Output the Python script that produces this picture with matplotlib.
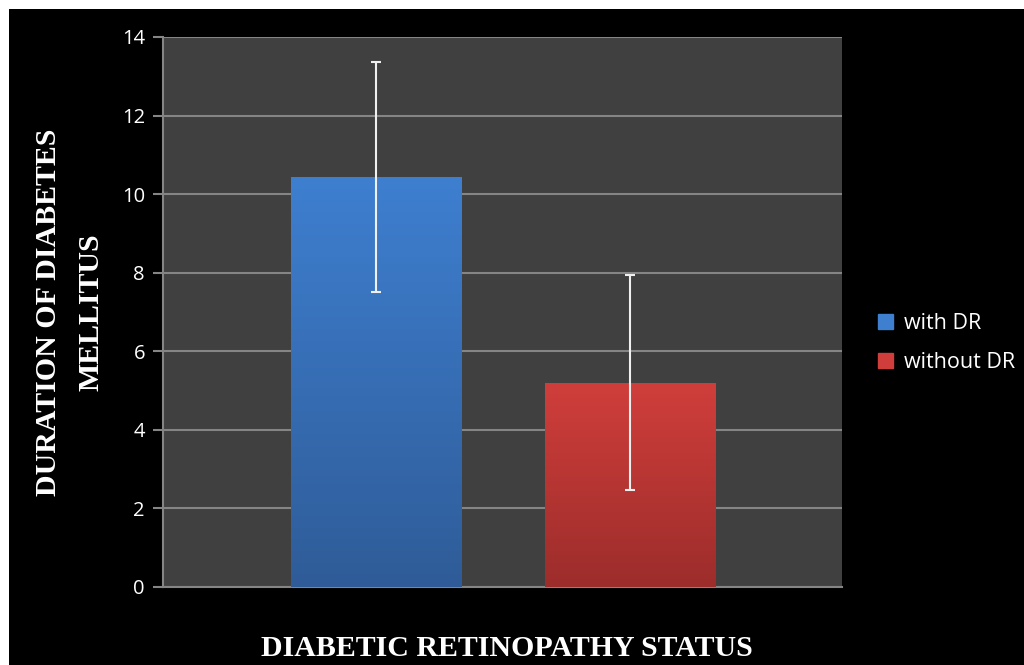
import numpy as np
import matplotlib
matplotlib.use("Agg")
import matplotlib.pyplot as plt
from matplotlib.patches import Rectangle
from matplotlib.colors import LinearSegmentedColormap

series = ["with DR", "without DR"]
means = [10.44, 5.2]
errors = [2.92, 2.73]
top_colors = ["#3E7FD0", "#D03E3B"]
bottom_colors = ["#2F5C98", "#9C2D2B"]
yticks = [0, 2, 4, 6, 8, 10, 12, 14]
xlabel = "DIABETIC RETINOPATHY STATUS"
ylabel = "DURATION OF DIABETES\nMELLITUS"

W, H = 1024, 665
fig = plt.figure(figsize=(W / 100, H / 100), dpi=100)
fig.patch.set_facecolor("white")
fig.add_artist(Rectangle((9 / W, 0), 1 - 9 / W, 1 - 9 / H, transform=fig.transFigure,
                         facecolor="black", edgecolor="none", zorder=-10))

ax = fig.add_axes([163 / W, (H - 587) / H, 679 / W, 550 / H])
ax.set_facecolor("#404040")

x = np.arange(len(series))
width = 0.669
bars = ax.bar(x, means, width=width, color=top_colors, zorder=3, edgecolor="none")
for b, tc, bc in zip(bars, top_colors, bottom_colors):
    cmap = LinearSegmentedColormap.from_list("g", [bc, tc])
    grad = np.linspace(0, 1, 256).reshape(-1, 1)
    bx, by = b.get_x(), b.get_y()
    im = ax.imshow(grad, cmap=cmap, origin="lower", aspect="auto",
                   extent=[bx, bx + b.get_width(), by, by + b.get_height()], zorder=3.5)
    im.set_clip_path(b)

ax.errorbar(x, means, yerr=errors, fmt="none", ecolor="#F0F0F0", elinewidth=1.5,
            capsize=3.6, capthick=1.5, zorder=5)

ax.set_xlim(-0.838, 1.834)
ax.set_ylim(0, 14)
ax.set_yticks(yticks)
ax.set_yticklabels([str(t) for t in yticks], color="white", fontsize=14.5, family="Open Sans")
ax.tick_params(axis="y", length=7, width=1.5, color="#858585", pad=6)
ax.tick_params(axis="x", length=0, labelbottom=False)
ax.yaxis.grid(True, color="#858585", lw=1.5, zorder=1)
ax.set_axisbelow(True)
for s in ["top", "right"]:
    ax.spines[s].set_visible(False)
for s in ["left", "bottom"]:
    ax.spines[s].set_color("#858585")
    ax.spines[s].set_linewidth(1.5)

fig.text(507 / W, 1 - 649 / H, xlabel, ha="center", va="center", color="white",
         fontsize=21.5, fontweight="bold", family="Liberation Serif")
fig.text(70 / W, 1 - 312 / H, ylabel, ha="center", va="center", color="white",
         fontsize=21.5, fontweight="bold", family="Liberation Serif", rotation=90,
         multialignment="center", linespacing=1.75)

leg = ax.legend(handles=[Rectangle((0, 0), 1, 1, color=c) for c in top_colors], labels=series,
                loc="center left", bbox_to_anchor=(859 / W, 1 - 343 / H),
                bbox_transform=fig.transFigure, frameon=False,
                handlelength=0.7, handleheight=0.7, handletextpad=0.5, labelspacing=0.85,
                prop={"family": "Open Sans", "size": 15.5})
for t in leg.get_texts():
    t.set_color("white")

fig.savefig("out.png", dpi=100, facecolor=fig.get_facecolor())
